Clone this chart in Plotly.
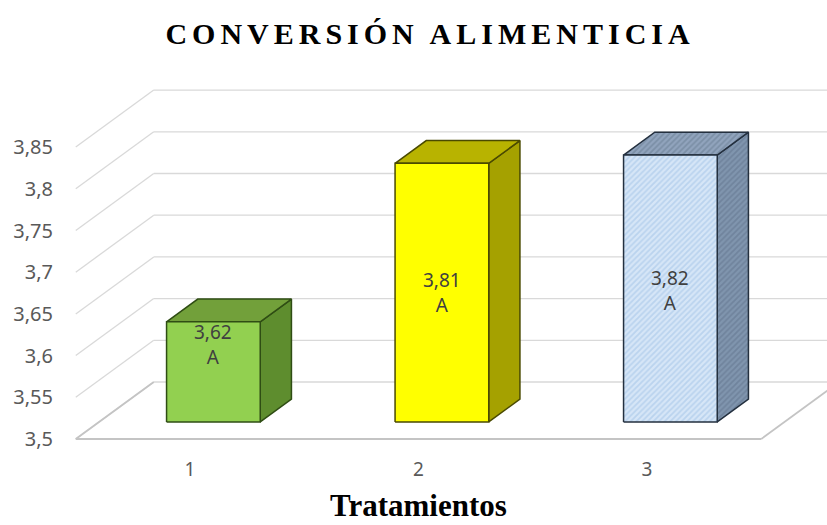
import plotly.graph_objects as go

# ---- data -------------------------------------------------------------
categories = [1, 2, 3]
values = [3.62, 3.81, 3.82]
groups = ["A", "A", "A"]
y_ticks = [3.5, 3.55, 3.6, 3.65, 3.7, 3.75, 3.8, 3.85]

# ---- layout / style ---------------------------------------------------
W, H = 827, 525
ML, MR, MT, MB = 60, 0, 70, 69
PX_PER_CAT = 228.5      # pixels between categories on the front plane
PX_PER_UNIT = 834       # pixels per value unit on the front plane
X1_PX = 190             # pixel x of the first category on the front plane
BASE_PX = 439           # pixel y of the axis minimum on the front plane
DEPTH_PX = (78, 57)     # oblique offset of the back wall

base = y_ticks[0]
x_range = [1 + (ML - X1_PX) / PX_PER_CAT, 1 + (W - MR - X1_PX) / PX_PER_CAT]
y_range = [base + (BASE_PX - (H - MB)) / PX_PER_UNIT,
           base + (BASE_PX - MT) / PX_PER_UNIT]
DX = DEPTH_PX[0] / PX_PER_CAT
DY = DEPTH_PX[1] / PX_PER_UNIT

BAR_W = 0.41
Z0, Z1 = 0.3, 0.7

front_cols = ["#92d050", "#ffff00", "#d6e6f7"]
top_cols = ["#72a03a", "#b8b300", "#91a4bd"]
side_cols = ["#5e8d2e", "#a5a100", "#8095ae"]
hatch_cols = [None, None, ["#5f728b", "#66798f", "#9dbfe5"]]
edge_cols = ["#2f4d14", "#4a4a00", "#24303f"]
label_shift = [27, 0, -2]


def proj(x, v, z):
    return x + z * DX, v + z * DY


def poly(pts):
    xs, ys = zip(*[proj(*p) for p in pts + [pts[0]]])
    return list(xs), list(ys)


fig = go.Figure()

# ---- walls and floor --------------------------------------------------
x_lo, x_hi = categories[0] - 0.5, categories[-1] + 0.5
gx, gy = [], []
for t in y_ticks:
    for a, b in [((x_lo, t, 0), (x_lo, t, 1)), ((x_lo, t, 1), (x_hi, t, 1))]:
        pa, pb = proj(*a), proj(*b)
        gx += [pa[0], pb[0], None]
        gy += [pa[1], pb[1], None]
fig.add_trace(go.Scatter(x=gx, y=gy, mode="lines",
                         line=dict(color="#d9d9d9", width=1.3),
                         hoverinfo="skip", showlegend=False))

fx, fy = [], []
for a, b in [((x_lo, base, 0), (x_hi, base, 0)),
             ((x_hi, base, 0), (x_hi, base, 1)),
             ((x_lo, base, 0), (x_lo, base, 1))]:
    pa, pb = proj(*a), proj(*b)
    fx += [pa[0], pb[0], None]
    fy += [pa[1], pb[1], None]
fig.add_trace(go.Scatter(x=fx, y=fy, mode="lines",
                         line=dict(color="#c4c4c4", width=1.8),
                         hoverinfo="skip", showlegend=False))

# ---- 3D columns -------------------------------------------------------
for i, (c, v) in enumerate(zip(categories, values)):
    xl, xr = c - BAR_W / 2, c + BAR_W / 2
    faces = [
        ([(xr, base, Z0), (xr, v, Z0), (xr, v, Z1), (xr, base, Z1)], side_cols[i]),
        ([(xl, v, Z0), (xr, v, Z0), (xr, v, Z1), (xl, v, Z1)], top_cols[i]),
        ([(xl, base, Z0), (xr, base, Z0), (xr, v, Z0), (xl, v, Z0)], front_cols[i]),
    ]
    for k, (pts, col) in enumerate(faces):
        xs, ys = poly(pts)
        kw = {}
        if hatch_cols[i]:
            kw["fillpattern"] = dict(shape="/", bgcolor=col,
                                     fgcolor=hatch_cols[i][k],
                                     size=4, solidity=0.45)
        fig.add_trace(go.Scatter(x=xs, y=ys, mode="lines", fill="toself",
                                 fillcolor=col,
                                 line=dict(color=edge_cols[i], width=1.5),
                                 hoverinfo="skip", showlegend=False, **kw))
    lx, ly = proj(c, (base + v) / 2, Z0)
    fig.add_annotation(x=lx, y=ly, yshift=label_shift[i], showarrow=False,
                       text=f"{v:.2f}".replace(".", ",") + "<br>" + groups[i],
                       font=dict(family="Noto Sans", size=19, color="#404040"))

# ---- axis title -------------------------------------------------------
fig.add_annotation(x=sum(categories) / len(categories), xref="x",
                   y=0, yref="paper", yanchor="top", yshift=-30,
                   showarrow=False, text="<b>Tratamientos</b>",
                   font=dict(family="Liberation Serif", size=31, color="#000000"))

fig.update_layout(
    width=W, height=H,
    margin=dict(l=ML, r=MR, t=MT, b=MB),
    paper_bgcolor="white", plot_bgcolor="white",
    title=dict(text="<b>CONVERSIÓN ALIMENTICIA</b>", x=0.52, xanchor="center",
               y=1 - 33 / H, yanchor="middle", yref="container",
               font=dict(family="Liberation Serif", size=30, color="#000000")),
    xaxis=dict(range=x_range, tickvals=categories,
               ticktext=[str(c) for c in categories],
               showgrid=False, zeroline=False, showline=False, ticks="",
               tickfont=dict(family="Noto Sans", size=19, color="#595959")),
    yaxis=dict(range=y_range, tickvals=y_ticks,
               ticktext=[f"{t:g}".replace(".", ",") for t in y_ticks],
               showgrid=False, zeroline=False, showline=False, ticks="",
               ticklabelstandoff=6,
               tickfont=dict(family="Noto Sans", size=20, color="#595959")),
    showlegend=False,
)

spacing_js = (
    "var gd=document.getElementById('{plot_id}');"
    "function sp(){gd.querySelectorAll('.gtitle').forEach(function(e){"
    "e.style.letterSpacing='5px';});}"
    "sp();gd.on('plotly_afterplot',sp);"
)
fig.write_html("out.html", post_script=spacing_js)
